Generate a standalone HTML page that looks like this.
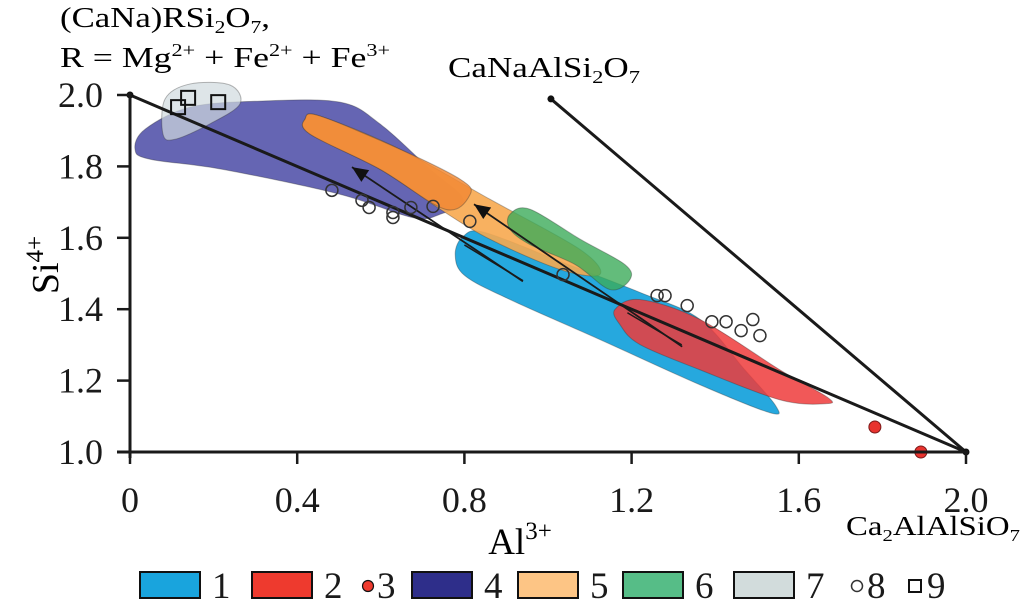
<!DOCTYPE html>
<html><head><meta charset="utf-8"><style>
body{margin:0;background:#fff;}
svg{display:block;font-family:"Liberation Serif",serif;}
</style></head><body>
<svg id="chart" width="1022" height="611" viewBox="0 0 1022 611" xmlns="http://www.w3.org/2000/svg">
<g id="regions"></g>
<g id="lines"></g>
<g id="points"></g>
<g id="axes"></g>
<text x="60" y="27" font-size="29" textLength="210" lengthAdjust="spacingAndGlyphs">(CaNa)RSi<tspan font-size="18" dy="6">2</tspan><tspan dy="-6">O</tspan><tspan font-size="18" dy="6">7</tspan><tspan dy="-6">,</tspan></text>
<text x="60" y="67" font-size="29" textLength="330" lengthAdjust="spacingAndGlyphs">R = Mg<tspan font-size="18" dy="-11">2+</tspan><tspan dy="11"> + Fe</tspan><tspan font-size="18" dy="-11">2+</tspan><tspan dy="11"> + Fe</tspan><tspan font-size="18" dy="-11">3+</tspan></text>
<text x="448" y="77" font-size="28" textLength="192" lengthAdjust="spacingAndGlyphs">CaNaAlSi<tspan font-size="18" dy="6">2</tspan><tspan dy="-6">O</tspan><tspan font-size="18" dy="6">7</tspan></text>
<text x="846" y="535" font-size="27" textLength="174" lengthAdjust="spacingAndGlyphs">Ca<tspan font-size="17" dy="6">2</tspan><tspan dy="-6">AlAlSiO</tspan><tspan font-size="17" dy="6">7</tspan></text>
<text transform="translate(58,265) rotate(-90)" text-anchor="middle" font-size="38">Si<tspan font-size="25" dy="-15">4+</tspan></text>
<text x="520" y="554" text-anchor="middle" font-size="37">Al<tspan font-size="25" dy="-15">3+</tspan></text>
<g id="legend"></g>
</svg>
<script>
const xTicks=[0,0.4,0.8,1.2,1.6,2.0];
const xTickLabels=["0","0.4","0.8","1.2","1.6","2.0"];
const yTicks=[1.0,1.2,1.4,1.6,1.8,2.0];
const yTickLabels=["1.0","1.2","1.4","1.6","1.8","2.0"];
const circlesX=[0.483,0.555,0.572,0.629,0.629,0.672,0.725,0.813,1.036,1.261,1.280,1.333,1.392,1.426,1.462,1.490,1.507];
const circlesY=[1.733,1.705,1.685,1.671,1.657,1.685,1.688,1.646,1.497,1.438,1.438,1.410,1.365,1.365,1.340,1.371,1.326];
const squaresX=[0.115,0.139,0.211];
const squaresY=[1.966,1.992,1.980];
const redX=[1.782,1.892];
const redY=[1.070,1.000];
const region1=[[0.778,1.553],[0.797,1.604],[0.849,1.615],[1.029,1.534],[1.220,1.447],[1.364,1.371],[1.471,1.230],[1.545,1.129],[1.531,1.110],[1.364,1.188],[1.124,1.315],[0.909,1.427],[0.801,1.494]];
const region2=[[1.160,1.399],[1.220,1.427],[1.364,1.371],[1.555,1.230],[1.670,1.152],[1.663,1.135],[1.555,1.146],[1.364,1.230],[1.220,1.301],[1.172,1.357]];
const region4=[[0.012,1.848],[0.036,1.904],[0.144,1.966],[0.311,1.983],[0.502,1.980],[0.598,1.919],[0.718,1.792],[0.797,1.708],[0.742,1.666],[0.675,1.657],[0.502,1.722],[0.220,1.792],[0.048,1.820]];
const region5=[[0.419,1.933],[0.455,1.941],[0.646,1.848],[0.861,1.708],[1.077,1.567],[1.124,1.497],[1.029,1.511],[0.861,1.596],[0.742,1.680],[0.598,1.792],[0.431,1.890]];
const region5core=[[0.419,1.933],[0.455,1.941],[0.646,1.848],[0.790,1.764],[0.814,1.722],[0.754,1.680],[0.598,1.792],[0.431,1.890]];
const region6=[[0.909,1.666],[0.957,1.680],[1.077,1.596],[1.184,1.525],[1.196,1.483],[1.148,1.455],[1.065,1.525],[0.957,1.581],[0.909,1.624]];
const region7=[[0.079,1.890],[0.084,1.989],[0.144,2.031],[0.239,2.028],[0.263,1.975],[0.191,1.919],[0.108,1.876]];
const lineA=[[0,2],[2,1]];
const lineB=[[1.007,1.989],[2,1]];
const arrow1=[[0.940,1.478],[0.531,1.798]];
const arrow2=[[1.321,1.295],[0.823,1.694]];
const trend1=[[0.80,1.58],[0.94,1.48]];
const trend2=[[1.19,1.39],[1.32,1.30]];

const NS="http://www.w3.org/2000/svg";
const X=v=>130+418*v;
const Y=v=>452-357*(v-1);
function mk(tag,parent,attrs){const e=document.createElementNS(NS,tag);for(const k in attrs)e.setAttribute(k,attrs[k]);document.getElementById(parent).appendChild(e);return e;}
function smooth(pts){const p=pts.map(d=>[X(d[0]),Y(d[1])]);const n=p.length;let s=`M${p[0][0]},${p[0][1]}`;
for(let i=0;i<n;i++){const p0=p[(i-1+n)%n],p1=p[i],p2=p[(i+1)%n],p3=p[(i+2)%n];
s+=`C${p1[0]+(p2[0]-p0[0])/6},${p1[1]+(p2[1]-p0[1])/6} ${p2[0]-(p3[0]-p1[0])/6},${p2[1]-(p3[1]-p1[1])/6} ${p2[0]},${p2[1]}`;}return s+"Z";}
function region(pts,fill,op,name){const e=mk('path','regions',{d:smooth(pts),fill:fill,'fill-opacity':op,stroke:'#333','stroke-opacity':0.35,'stroke-width':1});

}
region(region4,'#4a4aa6',0.85,'region-4');
region(region7,'#d0dade',0.7,'region-7');
region(region1,'#1aa3dc',0.95,'region-1');
region(region5,'#f7a94f',0.9,'region-5');
region(region5core,'#f28a35',0.85,'region-5-core');
region(region6,'#3cab5a',0.8,'region-6');
region(region2,'#ee3b3b',0.85,'region-2');

function line(pts,w,name,parent){const e=mk('line',parent||'lines',{x1:X(pts[0][0]),y1:Y(pts[0][1]),x2:X(pts[1][0]),y2:Y(pts[1][1]),stroke:'#1a1a1a','stroke-width':w});

return e;}
line(lineA,3,'join-line-a');
line(lineB,3,'join-line-b');
line(trend1,1.5,'trend-line-1');
line(trend2,1.5,'trend-line-2');
[[arrow1,'arrow-1'],[arrow2,'arrow-2']].forEach(([a,n])=>{line(a,1.8,n);
const x2=X(a[1][0]),y2=Y(a[1][1]),x1=X(a[0][0]),y1=Y(a[0][1]);const ang=Math.atan2(y2-y1,x2-x1);const L=16,W=7;
const bx=x2-L*Math.cos(ang),by=y2-L*Math.sin(ang);
const h=mk('polygon','lines',{points:`${x2},${y2} ${bx-W*Math.sin(ang)},${by+W*Math.cos(ang)} ${bx+W*Math.sin(ang)},${by-W*Math.cos(ang)}`,fill:'#111'});

});
[[0,2],[2,1],[1.007,1.989]].forEach(p=>{const d=mk('circle','lines',{cx:X(p[0]),cy:Y(p[1]),r:3.5,fill:'#111'});

});

circlesX.forEach((v,i)=>{const c=mk('circle','points',{cx:X(v),cy:Y(circlesY[i]),r:6,fill:'none',stroke:'#333','stroke-width':1.5});

});
squaresX.forEach((v,i)=>{const r=mk('rect','points',{x:X(v)-7,y:Y(squaresY[i])-7,width:14,height:14,fill:'none',stroke:'#111','stroke-width':2});

});
redX.forEach((v,i)=>{const c=mk('circle','points',{cx:X(v),cy:Y(redY[i]),r:6,fill:'#e8332e',stroke:'#7a1a1a','stroke-width':1});

});

// axes
const ya=mk('line','axes',{x1:130,y1:93,x2:130,y2:458,stroke:'#1a1a1a','stroke-width':3});


const xa=mk('line','axes',{x1:117,y1:452,x2:968,y2:452,stroke:'#1a1a1a','stroke-width':3});


yTicks.forEach((v,i)=>{const t=mk('line','axes',{x1:117,y1:Y(v),x2:130,y2:Y(v),stroke:'#1a1a1a','stroke-width':2.5});


const l=mk('text','axes',{x:103,y:Y(v)+12,'text-anchor':'end','font-size':36,fill:'#1a1a1a'});l.textContent=yTickLabels[i];

});
xTicks.forEach((v,i)=>{const t=mk('line','axes',{x1:X(v),y1:452,x2:X(v),y2:464,stroke:'#1a1a1a','stroke-width':2.5});


const l=mk('text','axes',{x:X(v),y:512,'text-anchor':'middle','font-size':36,fill:'#1a1a1a'});l.textContent=xTickLabels[i];

});

// legend
const legendFills=['#19a4dd','#ee3a2e','#ee3a2e','#2e2e8a','#fdc585','#56bd87','#d2dcdc','none','none'];
const legendLabels=['1','2','3','4','5','6','7','8','9'];
const legendKinds=['box','box','dot','box','box','box','box','circle','square'];
const legendX=[140,252,362,412,518,623,734,851,909];
legendKinds.forEach((k,i)=>{let x=legendX[i];let e;
if(k==='box'){e=mk('rect','legend',{x:x,y:572,width:60,height:26,fill:legendFills[i],stroke:'#111','stroke-width':2});x+=72;}
else if(k==='dot'){e=mk('circle','legend',{cx:x+6,cy:586,r:5.5,fill:legendFills[i],stroke:'#111','stroke-width':1.2});x+=15;}
else if(k==='circle'){e=mk('circle','legend',{cx:x+6,cy:586,r:5.5,fill:'none',stroke:'#333','stroke-width':1.5});x+=16;}
else {e=mk('rect','legend',{x:x,y:580,width:12,height:12,fill:'none',stroke:'#111','stroke-width':2});x+=18;}


const t=mk('text','legend',{x:x,y:598,'font-size':37,fill:'#1a1a1a'});t.textContent=legendLabels[i];

});
</script>
</body></html>
